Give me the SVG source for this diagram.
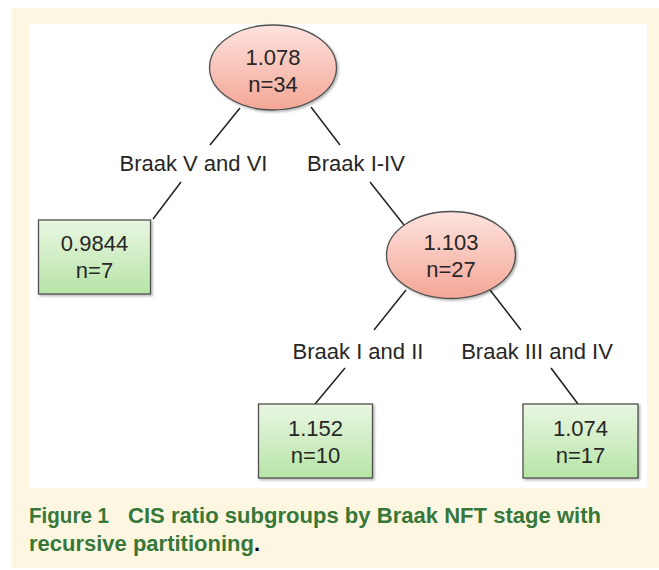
<svg xmlns="http://www.w3.org/2000/svg" width="659" height="570" viewBox="0 0 659 570">
<style>
.lbl{font-family:"Liberation Sans",Arial,sans-serif;font-size:22px;fill:#262626;text-anchor:middle}
.edge{stroke:#222;stroke-width:1.5;fill:none}
.oval{fill:url(#gRed);stroke:#505050;stroke-width:1.3;filter:url(#sh)}
.box{fill:url(#gGreen);stroke:#505050;stroke-width:1.3;filter:url(#sh)}
.cap{font-family:"Liberation Sans",Arial,sans-serif;font-size:22px;font-weight:bold;fill:#37773a}
</style>
<defs>
<linearGradient id="gRed" x1="0" y1="0" x2="0" y2="1">
<stop offset="0" stop-color="#fde3de"/>
<stop offset="1" stop-color="#f4a696"/>
</linearGradient>
<linearGradient id="gGreen" x1="0" y1="0" x2="0" y2="1">
<stop offset="0" stop-color="#eaf7e3"/>
<stop offset="1" stop-color="#b6e4a6"/>
</linearGradient>
<filter id="sh" x="-10%" y="-10%" width="125%" height="125%">
<feDropShadow dx="1.5" dy="1.5" stdDeviation="1" flood-color="#000" flood-opacity="0.3"/>
</filter>
</defs>
<rect x="12" y="8" width="647" height="560" fill="#fdf7e1"/>
<rect x="29" y="24" width="618" height="464" fill="#ffffff"/>
<g id="connectors">
<line class="edge" x1="240" y1="108" x2="210" y2="145"/>
<line class="edge" x1="311" y1="107" x2="340" y2="145"/>
<line class="edge" x1="181" y1="182" x2="153" y2="219"/>
<line class="edge" x1="370" y1="182" x2="404" y2="225"/>
<line class="edge" x1="406" y1="290" x2="374" y2="330"/>
<line class="edge" x1="490" y1="290" x2="521" y2="330"/>
<line class="edge" x1="345" y1="368" x2="315" y2="404"/>
<line class="edge" x1="551" y1="368" x2="578" y2="404"/>
</g>
<g id="edge-labels">
<text class="lbl" x="193.5" y="171">Braak V and VI</text>
<text class="lbl" x="356" y="171">Braak I-IV</text>
<text class="lbl" x="358" y="359">Braak I and II</text>
<text class="lbl" x="537" y="359">Braak III and IV</text>
</g>
<g id="node-root">
<ellipse class="oval" cx="273" cy="67.5" rx="63.5" ry="42.5"/>
<text class="lbl" x="273" y="65">1.078</text>
<text class="lbl" x="273" y="91.5">n=34</text>
</g>
<g id="node-left">
<rect class="box" x="38.5" y="220" width="112" height="74"/>
<text class="lbl" x="94.5" y="250.5">0.9844</text>
<text class="lbl" x="94.5" y="278">n=7</text>
</g>
<g id="node-mid">
<ellipse class="oval" cx="451" cy="255" rx="64.5" ry="43.5"/>
<text class="lbl" x="451" y="250">1.103</text>
<text class="lbl" x="451" y="276.5">n=27</text>
</g>
<g id="node-ll">
<rect class="box" x="258.5" y="404" width="114" height="74"/>
<text class="lbl" x="315.5" y="436">1.152</text>
<text class="lbl" x="315.5" y="463">n=10</text>
</g>
<g id="node-lr">
<rect class="box" x="523" y="404" width="115" height="74"/>
<text class="lbl" x="580.5" y="436">1.074</text>
<text class="lbl" x="580.5" y="463">n=17</text>
</g>
<g id="caption">
<text class="cap" x="29" y="523" textLength="80" lengthAdjust="spacingAndGlyphs">Figure 1</text>
<text class="cap" x="128" y="523" textLength="473" lengthAdjust="spacingAndGlyphs">CIS ratio subgroups by Braak NFT stage with</text>
<text class="cap" x="29" y="551" textLength="231" lengthAdjust="spacingAndGlyphs">recursive partitioning<tspan fill="#000000">.</tspan></text>
</g>
</svg>
